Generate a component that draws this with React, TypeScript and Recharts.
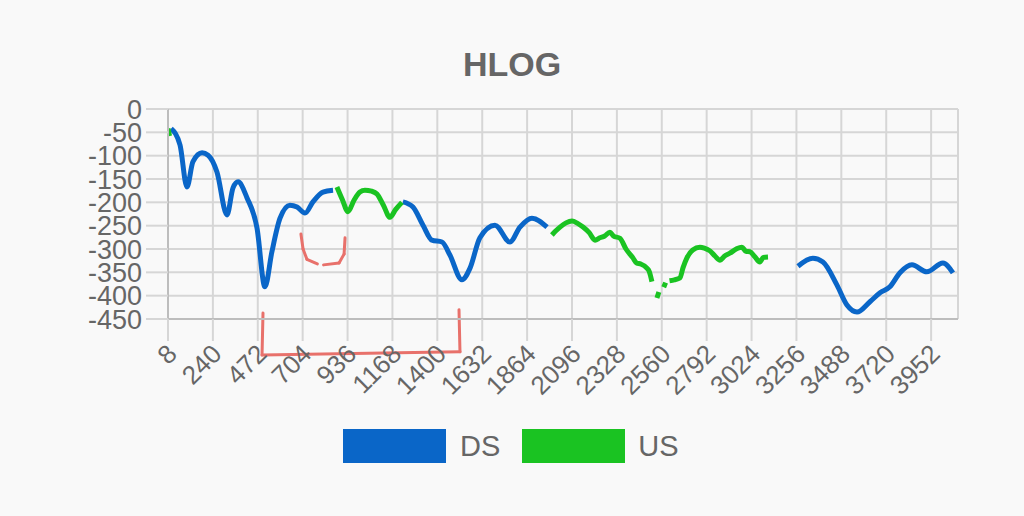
import React from 'react';
import { LineChart, Line, XAxis, YAxis, CartesianGrid, ReferenceLine } from 'recharts';

// tone index ticks shown on the x axis
const xTicks = [8, 240, 472, 704, 936, 1168, 1400, 1632, 1864, 2096, 2328, 2560, 2792, 3024, 3256, 3488, 3720, 3952];
const yTicks = [0, -50, -100, -150, -200, -250, -300, -350, -400, -450];

// [tone, hlog] pairs, null breaks the line
const dsPoints: (number | null)[][] = [
  [24, -42], [70, -77], [106, -167], [137, -113], [184, -94], [215, -99], [261, -135], [313, -227],
  [344, -169], [370, -156], [416, -190], [468, -255], [509, -381], [545, -306], [587, -234],
  [638, -206], [675, -210], [716, -223], [757, -199], [809, -178], [861, -174], [870, null],
  [1222, -199], [1274, -210], [1326, -249], [1372, -281], [1424, -285], [1465, -313], [1527, -366],
  [1569, -341], [1620, -276], [1698, -249], [1775, -285], [1827, -253], [1889, -234], [1967, -253], [1975, null],
  [3264, -337], [3341, -320], [3393, -328], [3465, -377], [3517, -420], [3569, -435], [3636, -413],
  [3688, -394], [3739, -381], [3791, -351], [3853, -334], [3930, -349], [4013, -330], [4065, -351],
];

const usPoints: (number | null)[][] = [
  [8, -42], [16, -58], [20, null],
  [881, -167], [910, -195], [938, -220], [970, -195], [1000, -178], [1026, -174], [1060, -176],
  [1088, -182], [1120, -205], [1155, -232], [1185, -215], [1217, -200], [1220, null],
  [1992, -270], [2010, -262], [2034, -253], [2065, -244], [2096, -240], [2125, -245], [2153, -253],
  [2185, -265], [2215, -281], [2240, -276], [2265, -272], [2292, -264], [2310, -272], [2344, -277],
  [2375, -300], [2411, -319], [2430, -330], [2450, -332], [2483, -341], [2495, -348], [2509, -370], [2520, null],
  [2535, -405], [2545, -392], [2555, null], [2570, -382], [2580, -372], [2590, null],
  [2600, -368], [2625, -366], [2654, -362], [2670, -340], [2690, -319], [2720, -302], [2757, -296],
  [2780, -298], [2809, -304], [2835, -315], [2861, -324], [2885, -315], [2912, -309], [2945, -300],
  [2974, -296], [2995, -305], [3016, -306], [3040, -316], [3067, -328], [3085, -318], [3109, -317],
];

// hand drawn red marks on the screenshot
const marks: [number, number, number, number][] = [
  [695, -268, 706, -300], [706, -300, 726, -322], [726, -322, 780, -332],
  [812, -334, 892, -330], [892, -330, 918, -311], [918, -311, 923, -276],
  [499, -437, 494, -527], [494, -527, 1517, -520], [1517, -520, 1512, -430],
];

const toRows = (pts: (number | null)[][]) => pts.map(p => ({ x: p[0], y: p[1] }));
const dsData = toRows(dsPoints);
const usData = toRows(usPoints);

const BLUE = '#0a66c8';
const GREEN = '#1ac322';
const TEXT = '#666666';
const FONT = '"Liberation Sans", Arial, sans-serif';

const XTick = (props: any) => {
  const { x, y, payload } = props;
  const ax = x + 4;
  const ay = y + 6;
  return (
    <text x={ax} y={ay} transform={`rotate(-45 ${ax} ${ay})`} textAnchor="end" fill={TEXT} fontSize={26} fontFamily={FONT} dy="0.35em">
      {payload.value}
    </text>
  );
};

const App: React.FC = () => {
  return (
    <div style={{ position: 'absolute', left: 0, top: 0, width: 1024, height: 516, background: '#f9f9f9', fontFamily: FONT }}>
      <div style={{ position: 'absolute', top: 44, width: 1024, left: 0, textAlign: 'center', fontSize: 34, fontWeight: 'bold', color: TEXT, lineHeight: '40px' }}>
        HLOG
      </div>
      <LineChart width={1024} height={516} margin={{ top: 109, right: 66, left: 0, bottom: 137 }}>
        <CartesianGrid stroke="#d6d6d6" strokeWidth={2} />
        <XAxis
          dataKey="x"
          type="number"
          domain={[8, 4091]}
          ticks={xTicks}
          interval={0}
          allowDataOverflow
          height={60}
          tickSize={22}
          tickLine={{ stroke: '#d6d6d6', strokeWidth: 2 }}
          axisLine={{ stroke: '#bdbdbd', strokeWidth: 2 }}
          tick={<XTick />}
        />
        <YAxis
          type="number"
          domain={[-450, 0]}
          ticks={yTicks}
          interval={0}
          width={168}
          tickSize={22}
          tickMargin={4}
          tickLine={{ stroke: '#d6d6d6', strokeWidth: 2 }}
          axisLine={{ stroke: '#bdbdbd', strokeWidth: 2 }}
          tick={{ fill: TEXT, fontSize: 27, fontFamily: FONT }}
        />
        {marks.map((m, i) => (
          <ReferenceLine
            key={`m-${i}`}
            segment={[{ x: m[0], y: m[1] }, { x: m[2], y: m[3] }]}
            stroke="#e8716b"
            strokeWidth={3}
            strokeLinecap="round"
            ifOverflow="visible"
          />
        ))}
        <Line data={dsData} dataKey="y" type="monotone" stroke={BLUE} strokeWidth={5} dot={false} isAnimationActive={false} />
        <Line data={usData} dataKey="y" type="monotone" stroke={GREEN} strokeWidth={5} dot={false} isAnimationActive={false} />
      </LineChart>
      <div style={{ position: 'absolute', top: 429, left: 343, display: 'flex', alignItems: 'center', fontSize: 29, color: TEXT }}>
        <div style={{ width: 103, height: 34, background: BLUE }} />
        <span style={{ marginLeft: 14, marginRight: 22 }}>DS</span>
        <div style={{ width: 103, height: 34, background: GREEN }} />
        <span style={{ marginLeft: 13 }}>US</span>
      </div>
    </div>
  );
};

export default App;
